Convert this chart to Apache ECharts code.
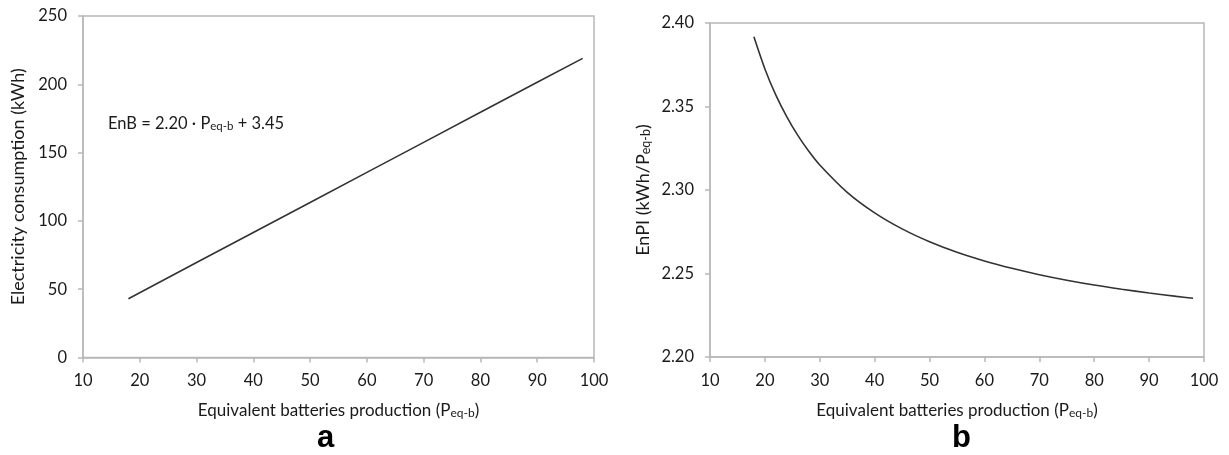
<!DOCTYPE html>
<html>
<head>
<meta charset="utf-8">
<script src="https://cdn.jsdelivr.net/npm/echarts@6/dist/echarts.min.js"></script>
<style>
html,body{margin:0;padding:0;background:#fff;}
#chart{width:1229px;height:455px;}
</style>
</head>
<body>
<div id="chart"></div>
<script>
// Panel a: electricity consumption vs equivalent batteries production
const enbX = [18, 30, 40, 50, 60, 70, 80, 90, 98];
const enbY = [43.0, 69.5, 91.5, 113.5, 135.5, 157.5, 179.5, 201.5, 219.0];
// Panel b: EnPI vs equivalent batteries production
const enpiX = [18, 20, 22, 24, 26, 28, 30, 35, 40, 45, 50, 55, 60, 65, 70, 75, 80, 85, 90, 95, 98];
const enpiY = [2.3917, 2.3725, 2.3568, 2.3438, 2.3327, 2.3232, 2.3150, 2.2986, 2.2863, 2.2767, 2.2690, 2.2627, 2.2575, 2.2531, 2.2493, 2.2460, 2.2431, 2.2406, 2.2383, 2.2363, 2.2352];
const xTicks = [10, 20, 30, 40, 50, 60, 70, 80, 90, 100];
const yTicksA = [0, 50, 100, 150, 200, 250];
const yTicksB = [2.20, 2.25, 2.30, 2.35, 2.40];

const FONT = 'Lato, "Open Sans", sans-serif';
const TXT = '#1a1a1a';
const AX = '#b8b8b8';
function subRich(size) {
  return { sub: { fontSize: size, fontFamily: FONT, color: TXT, fill: TXT, verticalAlign: 'bottom', padding: [4, 0, 0, 0] } };
}

function xAxis(gi) {
  return {
    type: 'value', gridIndex: gi, min: xTicks[0], max: xTicks[xTicks.length - 1], interval: 10,
    name: 'Equivalent batteries production (P{sub|eq-b})',
    nameLocation: 'middle', nameGap: 45,
    nameTextStyle: { fontFamily: FONT, fontSize: 17, color: TXT, rich: subRich(12) },
    axisLine: { show: true, lineStyle: { color: AX, width: 1.5 } },
    axisTick: { show: true, length: 5, lineStyle: { color: AX, width: 1.5 } },
    axisLabel: { fontFamily: FONT, fontSize: 16.5, color: TXT, margin: 15 },
    splitLine: { show: false }
  };
}

const chart = echarts.init(document.getElementById('chart'), null, { renderer: 'canvas' });
chart.setOption({
  animation: false,
  backgroundColor: '#fff',
  grid: [
    { left: 83, top: 16, width: 511, bottom: 97.5, show: true, borderColor: AX, borderWidth: 1.5 },
    { left: 710, top: 23, width: 494, bottom: 98, show: true, borderColor: AX, borderWidth: 1.5 }
  ],
  xAxis: [xAxis(0), xAxis(1)],
  yAxis: [
    {
      type: 'value', gridIndex: 0, min: yTicksA[0], max: yTicksA[yTicksA.length - 1], interval: 50,
      name: 'Electricity consumption (kWh)', nameLocation: 'middle', nameGap: 56,
      nameTextStyle: { fontFamily: FONT, fontSize: 18, color: TXT },
      axisLine: { show: true, lineStyle: { color: AX, width: 1.5 } },
      axisTick: { show: true, length: 5, lineStyle: { color: AX, width: 1.5 } },
      axisLabel: { fontFamily: FONT, fontSize: 16.5, color: TXT, margin: 16 },
      splitLine: { show: false }
    },
    {
      type: 'value', gridIndex: 1, min: yTicksB[0], max: yTicksB[yTicksB.length - 1], interval: 0.05,
      name: 'EnPI (kWh/P{sub|eq-b})', nameLocation: 'middle', nameGap: 58,
      nameTextStyle: { fontFamily: FONT, fontSize: 18, color: TXT, rich: subRich(12.5) },
      axisLine: { show: true, lineStyle: { color: AX, width: 1.5 } },
      axisTick: { show: true, length: 5, lineStyle: { color: AX, width: 1.5 } },
      axisLabel: { fontFamily: FONT, fontSize: 16.5, color: TXT, margin: 16, formatter: v => v.toFixed(2) },
      splitLine: { show: false }
    }
  ],
  series: [
    {
      type: 'line', xAxisIndex: 0, yAxisIndex: 0, showSymbol: false, symbol: 'none',
      data: enbX.map((x, i) => [x, enbY[i]]),
      lineStyle: { color: '#333', width: 1.6 }
    },
    {
      type: 'line', xAxisIndex: 1, yAxisIndex: 1, showSymbol: false, symbol: 'none', smooth: 0.3,
      data: enpiX.map((x, i) => [x, enpiY[i]]),
      lineStyle: { color: '#333', width: 1.6 }
    }
  ],
  graphic: [
    {
      type: 'text', left: 108, top: 115,
      style: {
        text: 'EnB = 2.20 · P{sub|eq-b} + 3.45',
        fontFamily: FONT, fontSize: 16.5, fill: TXT,
        rich: subRich(11.5)
      }
    },
    {
      type: 'text', left: 317, top: 423,
      style: { text: 'a', fontFamily: '"Liberation Sans", Arial, sans-serif', fontWeight: 'bold', fontSize: 31, fill: '#000' }
    },
    {
      type: 'text', left: 952, top: 423,
      style: { text: 'b', fontFamily: '"Liberation Sans", Arial, sans-serif', fontWeight: 'bold', fontSize: 31, fill: '#000' }
    }
  ]
});
</script>
</body>
</html>
